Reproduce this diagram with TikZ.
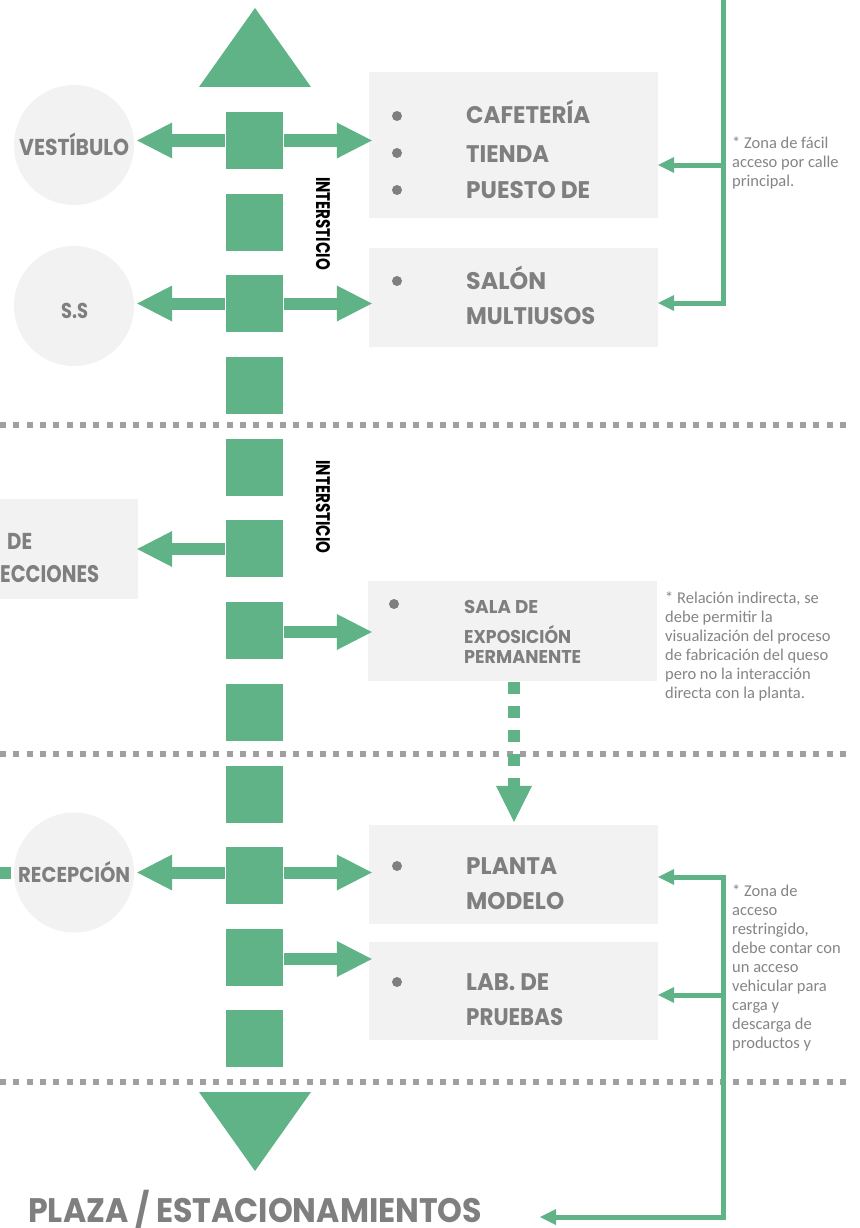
\documentclass[tikz,border=0pt]{standalone}
\usepackage{fontspec}
\usepackage{graphicx}
\usetikzlibrary{arrows.meta,calc}
\newfontfamily\pop{Poppins}
\newfontfamily\notefont{Carlito}
\definecolor{grn}{RGB}{95,179,135}
\definecolor{boxgray}{RGB}{242,242,242}
\definecolor{txtgray}{RGB}{127,127,127}
\definecolor{dotgray}{RGB}{160,160,160}
\definecolor{notegray}{RGB}{133,133,133}
\newcommand\bl[3]{\resizebox{#2pt}{\height}{\fontsize{#1pt}{#1pt}\selectfont\pop\bfseries #3}}
\newcommand\notetext[1]{\vtop{\baselineskip=19pt\relax #1}}
\begin{document}
\begin{tikzpicture}[x=1pt,y=-1pt,
  sq/.style={fill=grn, minimum size=57pt, inner sep=0pt, draw=none},
  circ/.style={circle, fill=boxgray, minimum size=120pt, inner sep=0pt},
  box/.style={rectangle, fill=boxgray, inner sep=0pt},
  lab/.style={anchor=base west, inner sep=0pt, text=txtgray},
  note/.style={anchor=base west, inner sep=0pt, text=notegray, font=\notefont\fontsize{16.5pt}{19pt}\selectfont},
  bigarr/.style={draw=grn, line width=12pt, -{Triangle[length=35pt,width=36pt,line width=0pt]}},
  conn/.style={draw=grn, line width=5pt, -{Triangle[length=16pt,width=16pt,line width=0pt]}},
  conntwo/.style={draw=grn, line width=5pt, {Triangle[length=16pt,width=16pt,line width=0pt]}-{Triangle[length=16pt,width=16pt,line width=0pt]}},
  sep/.style={draw=dotgray, line width=6pt, dash pattern=on 6pt off 7.333pt},
  dotarr/.style={draw=grn, line width=12pt, dash pattern=on 12pt off 12pt, -{Triangle[length=36pt,width=36pt,line width=0pt]}},
  bullet/.style={circle, fill=txtgray, minimum size=10pt, inner sep=0pt}
]
\useasboundingbox (0,0) rectangle (859,1228);
\fill[white] (0,0) rectangle (859,1228);

% separators
\draw[sep] (0,424.7) -- (848,424.7);
\draw[sep] (0,753.5) -- (848,753.5);
\draw[sep] (0,1082.3) -- (848,1082.3);

% triangles
\fill[grn] (199,87) -- (255,8) -- (311,87) -- cycle;
\fill[grn] (199,1092) -- (311,1092) -- (255,1171) -- cycle;

% central squares
\foreach \i/\yy in {1/140.5,2/222.5,3/303.5,4/385.5,5/467.5,6/548.5,7/630.5,8/712.5,9/794.5,10/875.5,11/957.5,12/1038.5}
  \node[sq] (s\i) at (254.5,\yy) {};

% circles
\node[circ] (vest) at (74,145) {};
\node[circ] (ss) at (74,306) {};
\node[circ] (recep) at (74,872.5) {};

% boxes
\node[box, minimum width=289pt, minimum height=146pt] (cafe) at (513.5,145) {};
\node[box, minimum width=289pt, minimum height=99pt] (salon) at (513.5,297.5) {};
\node[box, minimum width=138pt, minimum height=100pt] (proy) at (69,549) {};
\node[box, minimum width=289pt, minimum height=100pt] (sala) at (512.5,631) {};
\node[box, minimum width=289pt, minimum height=99pt] (planta) at (513.5,874.5) {};
\node[box, minimum width=289pt, minimum height=98pt] (lab) at (513.5,991) {};

% stub at left of recepcion
\fill[grn] (0,867) rectangle (11,879);

% big arrows
\draw[bigarr] ($(s1.west)+(-1,0)$) -- ($(s1.west -| vest.east)+(3,0)$);
\draw[bigarr] ($(s1.east)+(1,0)$) -- ($(s1.east -| cafe.west)+(3,0)$);
\draw[bigarr] ($(s3.west)+(-1,0)$) -- ($(s3.west -| ss.east)+(3,0)$);
\draw[bigarr] ($(s3.east)+(1,0)$) -- ($(s3.east -| salon.west)+(3,0)$);
\draw[bigarr] ($(s6.west)+(-1,0.5)$) -- ($(s6.west -| proy.east)+(-1,0.5)$);
\draw[bigarr] ($(s7.east)+(1,1.5)$) -- ($(s7.east -| sala.west)+(4,1.5)$);
\draw[bigarr] ($(s10.west)+(-1,-3)$) -- ($(s10.west -| recep.east)+(3,-3)$);
\draw[bigarr] ($(s10.east)+(1,-3)$) -- ($(s10.east -| planta.west)+(3,-3)$);
\draw[bigarr] ($(s11.east)+(1,1.5)$) -- ($(s11.east -| lab.west)+(3,1.5)$);

% dotted arrow sala -> planta
\draw[dotarr] ($(sala.south)+(1.5,1)$) -- ($(planta.north)+(0.5,-3)$);

% right connectors
\coordinate (jt) at (723,0);
\coordinate (j1) at (723,165);
\coordinate (j2) at (723,303);
\coordinate (j3) at (723,877);
\coordinate (j4) at (723,995);
\coordinate (j5) at (723,1217);
\coordinate (pzt) at (540,1217);
\draw[conn] (jt) -- (j2) -- (j2 -| salon.east);
\draw[conn] (j1) -- (j1 -| cafe.east);
\draw[conntwo] (j3 -| planta.east) -- (j3) -- (j5) -- (pzt);
\draw[conn] (j4) -- (j4 -| lab.east);

% bullets
\node[bullet] (b1) at (397,116) {};
\node[bullet] (b2) at (397,153) {};
\node[bullet] (b3) at (397,190) {};
\node[bullet] (b4) at (397,281) {};
\node[bullet] (b5) at (394,604) {};
\node[bullet] (b6) at (397,866) {};
\node[bullet] (b7) at (397,982) {};

% labels
\node[lab] (t1) at (466,124) {\bl{24}{124}{CAFETERÍA}};
\node[lab] (t2) at (466,162) {\bl{24}{83}{TIENDA}};
\node[lab] (t3) at (466,198) {\bl{24}{124}{PUESTO DE}};
\node[lab] (t4) at (466,289.5) {\bl{24}{80}{SALÓN}};
\node[lab] (t5) at (466,324) {\bl{24}{129}{MULTIUSOS}};
\node[lab] (t6) at (464,613) {\bl{18.5}{74}{SALA DE}};
\node[lab] (t7) at (464,643) {\bl{18.5}{107}{EXPOSICIÓN}};
\node[lab] (t8) at (464,663) {\bl{18.5}{117}{PERMANENTE}};
\node[lab] (t9) at (466,874) {\bl{24}{91}{PLANTA}};
\node[lab] (t10) at (466,909) {\bl{24}{98}{MODELO}};
\node[lab] (t11) at (466,990) {\bl{24}{83}{LAB. DE}};
\node[lab] (t12) at (466,1025) {\bl{24}{97}{PRUEBAS}};
\node[lab] (vt) at (19,155) {\bl{23}{110}{VESTÍBULO}};
\node[lab] (sst) at (61,318) {\bl{21.5}{27}{S.S}};
\node[lab] (rt) at (18,882) {\bl{21.5}{112}{RECEPCIÓN}};
\node[lab] (dt) at (7,549) {\bl{23}{25}{DE}};
\node[lab] (et) at (0,582) {\bl{24}{99}{ECCIONES}};
\node[lab] (plaza) at (28,1222) {\bl{34}{454}{PLAZA / ESTACIONAMIENTOS}};

% intersticio
\node[rotate=-90, inner sep=0pt] (int1) at (323,223.5) {\resizebox{93pt}{14pt}{\pop\bfseries INTERSTICIO}};
\node[rotate=-90, inner sep=0pt] (int2) at (323,507) {\resizebox{93pt}{14pt}{\pop\bfseries INTERSTICIO}};

% notes
\node[note] (n1) at (732,148) {\notetext{\hbox{* Zona de fácil}\hbox{acceso por calle}\hbox{principal.}}};
\node[note] (n2) at (665,603) {\notetext{\hbox{* Relación indirecta, se}\hbox{debe permitir la}\hbox{visualización del proceso}\hbox{de fabricación del queso}\hbox{pero no la interacción}\hbox{directa con la planta.}}};
\node[note] (n3) at (732,896) {\notetext{\hbox{* Zona de}\hbox{acceso}\hbox{restringido,}\hbox{debe contar con}\hbox{un acceso}\hbox{vehicular para}\hbox{carga y}\hbox{descarga de}\hbox{productos y}}};
\end{tikzpicture}
\end{document}
